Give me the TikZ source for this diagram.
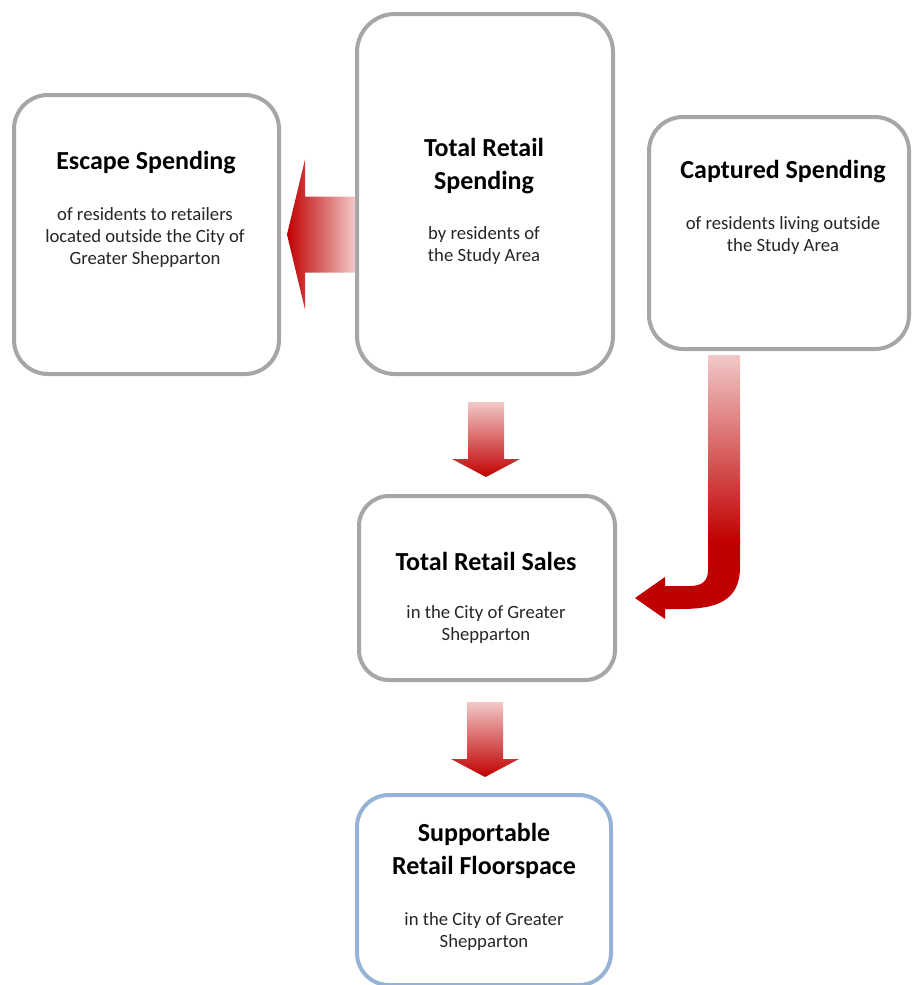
\documentclass[tikz,border=0pt]{standalone}
\usepackage{fontspec}
\setmainfont{Carlito}
\usepackage{tikz}
\usetikzlibrary{
	positioning,
	calc
}

\definecolor{boxgray}{HTML}{A6A6A6}
\definecolor{boxblue}{HTML}{95B3D7}
\definecolor{arrowred}{HTML}{C00000}
\definecolor{arrowpink}{HTML}{F2C8C8}

\tikzset{
	box/.style={draw=boxgray, line width=4pt, rounded corners=34pt, fill=white},
	head/.style={font=\fontsize{26}{33}\selectfont\bfseries, align=center},
	body/.style={font=\fontsize{18.7}{22}\selectfont, text=black!85, align=center},
	downarrow/.pic={
		\path[top color=arrowpink, bottom color=arrowred]
			(-18,0) -- (18,0) -- (18,57) -- (34,57) -- (0,75)
			-- (-34,57) -- (-18,57) -- cycle;
	}
}

\begin{document}
\begin{tikzpicture}[x=1pt, y=-1pt]
		\useasboundingbox (0,0) rectangle (912,985);

		% boxes
		\node[box, minimum width=265pt, minimum height=279pt] (escape) at (146.5,234.5) {};
		\node[box, minimum width=256pt, minimum height=360pt, rounded corners=38pt] (spend) at (485,194) {};
		\node[box, minimum width=260pt, minimum height=232pt] (captured) at (779,233) {};
		\node[box, minimum width=256pt, minimum height=184pt, rounded corners=30pt] (sales) at (487,588) {};
		\node[box, draw=boxblue, minimum width=254pt, minimum height=190pt, rounded corners=32pt] (floor) at (484,890) {};

		% texts
		\node[head] (escape-t) at (146,163) {Escape Spending};
		\node[body] (escape-b) at (145,238) {of residents to retailers\\located outside the City of\\Greater Shepparton};

		\node[head] (spend-t) at (484,166.5) {Total Retail\\Spending};
		\node[body] (spend-b) at (484,245.5) {by residents of\\the Study Area};

		\node[head] (captured-t) at (783,172) {Captured Spending};
		\node[body] (captured-b) at (783,235.5) {of residents living outside\\the Study Area};

		\node[head] (sales-t) at (486,561) {Total Retail Sales};
		\node[body] (sales-b) at (486,625) {in the City of Greater\\Shepparton};

		\node[head] (floor-t) at (484,851) {Supportable\\Retail Floorspace};
		\node[body] (floor-b) at (484,931.5) {in the City of Greater\\Shepparton};

		% arrows
		\begin{scope}[shift={(escape.east)}]
			\path[left color=arrowred, right color=arrowpink]
				(6,0) -- (24,-75) -- (24,-38) -- (74,-38) -- (74,38)
				-- (24,38) -- (24,75) -- cycle;
		\end{scope}

		\path ($(spend.south)+(1,26)$) pic {downarrow};
		\path ($(sales.south)+(-2,20)$) pic {downarrow};

		\begin{scope}[shift={(captured.south)}]
			\path[top color=arrowpink, bottom color=arrowred]
				(-71,4) rectangle (-39,191);
			\fill[arrowred]
				(-71,190) -- (-39,190) -- (-39,216)
				.. controls (-39,251) and (-64,258) .. (-99,258)
				-- (-114,258) -- (-114,268) -- (-144,247) -- (-114,226)
				-- (-114,235) -- (-89,235)
				.. controls (-76,235) and (-71,229) .. (-71,219) -- cycle;
		\end{scope}
	\end{tikzpicture}
\end{document}
